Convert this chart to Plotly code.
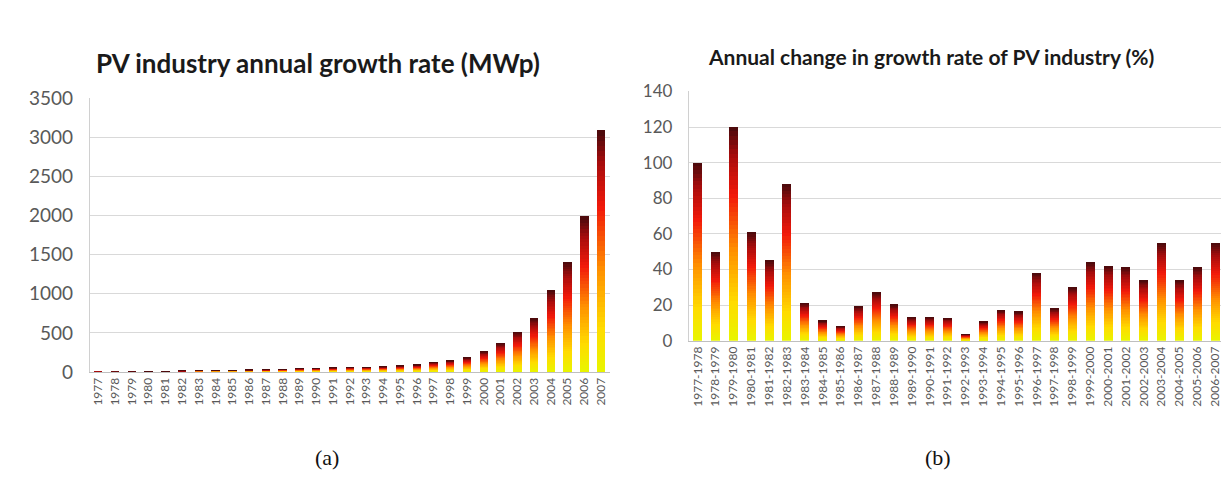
import plotly.graph_objects as go

# ---------------- data ----------------
years = ["1977", "1978", "1979", "1980", "1981", "1982", "1983", "1984", "1985", "1986",
         "1987", "1988", "1989", "1990", "1991", "1992", "1993", "1994", "1995", "1996",
         "1997", "1998", "1999", "2000", "2001", "2002", "2003", "2004", "2005", "2006", "2007"]
growth_mwp = [0.5, 1, 1.5, 3.3, 5.3, 7.7, 14.5, 17.5, 19.5, 21,
              25, 32, 38, 43, 49, 55, 57, 63, 74, 86,
              119, 140, 178, 258, 362, 505, 678, 1045, 1405, 1990, 3090]

periods = ["1977-1978", "1978-1979", "1979-1980", "1980-1981", "1981-1982", "1982-1983",
           "1983-1984", "1984-1985", "1985-1986", "1986-1987", "1987-1988", "1988-1989",
           "1989-1990", "1990-1991", "1991-1992", "1992-1993", "1993-1994", "1994-1995",
           "1995-1996", "1996-1997", "1997-1998", "1998-1999", "1999-2000", "2000-2001",
           "2001-2002", "2002-2003", "2003-2004", "2004-2005", "2005-2006", "2006-2007"]
change_pct = [100, 50, 120, 61, 45, 88, 21, 11, 8, 19, 27, 20,
              13, 13, 12.5, 3.5, 10.5, 17, 16, 38, 18, 30,
              44, 42, 41, 34, 55, 34, 41, 55]

left_ticks = [0, 500, 1000, 1500, 2000, 2500, 3000, 3500]
right_ticks = [0, 20, 40, 60, 80, 100, 120, 140]

title_a = "PV industry annual growth rate (MWp)"
title_b = "Annual change in growth rate of PV industry (%)"

# ---------------- styling ----------------
W, H = 1222, 490
N_SEG = 48
STOPS = [(0.0, (232, 245, 0)), (0.18, (255, 220, 0)), (0.42, (255, 145, 0)),
         (0.68, (242, 25, 10)), (0.87, (165, 12, 12)), (1.0, (70, 10, 12))]


def grad(t):
    for (t0, c0), (t1, c1) in zip(STOPS[:-1], STOPS[1:]):
        if t <= t1:
            f = (t - t0) / (t1 - t0)
            return "rgb(%d,%d,%d)" % tuple(round(a + (b - a) * f) for a, b in zip(c0, c1))
    return "rgb(%d,%d,%d)" % STOPS[-1][1]


fig = go.Figure()


def add_gradient_bars(cats, vals, xa, ya):
    for k in range(N_SEG):
        fig.add_trace(go.Bar(
            x=cats, y=[v / N_SEG for v in vals], xaxis=xa, yaxis=ya,
            marker=dict(color=grad((k + 0.5) / N_SEG), line=dict(width=0)),
            showlegend=False, hoverinfo="skip"))


add_gradient_bars(years, growth_mwp, "x", "y")
add_gradient_bars(periods, change_pct, "x2", "y2")

FONT = "Lato"
TICK_COLOR = "#595959"
GRID = "#D9D9D9"

fig.update_layout(
    width=W, height=H, margin=dict(l=0, r=0, t=0, b=0),
    paper_bgcolor="white", plot_bgcolor="white",
    barmode="stack", bargap=0.5,
    font=dict(family=FONT, color=TICK_COLOR),
    xaxis=dict(domain=[90 / W, 610 / W], type="category", range=[-0.5, 30.5],
               tickangle=-90, tickfont=dict(size=12, color=TICK_COLOR),
               showline=True, linecolor="#BFBFBF", linewidth=1, ticks="",
               showgrid=False, anchor="y"),
    yaxis=dict(domain=[(H - 377.7) / H, (H - 90.7) / H], range=[0, 3500],
               tickvals=left_ticks, tickfont=dict(size=19, color=TICK_COLOR),
               ticklabelstandoff=12,
               showgrid=True, gridcolor=GRID, gridwidth=1, zeroline=False,
               showline=True, linecolor="#D0D0D0", ticks="", anchor="x"),
    xaxis2=dict(domain=[689.4 / W, 1.0], type="category", range=[-0.5, 29.33],
                tickangle=-90, tickfont=dict(size=12, color=TICK_COLOR),
                showline=True, linecolor="#BFBFBF", linewidth=1, ticks="",
                showgrid=False, anchor="y2"),
    yaxis2=dict(domain=[(H - 345) / H, (H - 83.3) / H], range=[0, 140],
                tickvals=right_ticks, tickfont=dict(size=17, color=TICK_COLOR),
                ticklabelstandoff=12,
                showgrid=True, gridcolor=GRID, gridwidth=1, zeroline=False,
                showline=True, linecolor="#D0D0D0", ticks="", anchor="x2"),
)

fig.add_annotation(text="<b>%s</b>" % title_a, x=318 / W, y=(H - 53) / H,
                   xref="paper", yref="paper", xanchor="center", yanchor="middle",
                   showarrow=False, font=dict(family=FONT, size=26, color="#1a1a1a"))
fig.add_annotation(text="<b>%s</b>" % title_b, x=932 / W, y=(H - 47) / H,
                   xref="paper", yref="paper", xanchor="center", yanchor="middle",
                   showarrow=False, font=dict(family=FONT, size=21, color="#1a1a1a"))
fig.add_annotation(text="(a)", x=327 / W, y=(H - 467) / H, xref="paper", yref="paper",
                   xanchor="center", yanchor="middle", showarrow=False,
                   font=dict(family="Liberation Serif", size=22, color="#111"))
fig.add_annotation(text="(b)", x=939 / W, y=(H - 467) / H, xref="paper", yref="paper",
                   xanchor="center", yanchor="middle", showarrow=False,
                   font=dict(family="Liberation Serif", size=22, color="#111"))

fig.write_html("out.html", config={"displayModeBar": False},
               post_script="document.body.style.margin='0px';")
